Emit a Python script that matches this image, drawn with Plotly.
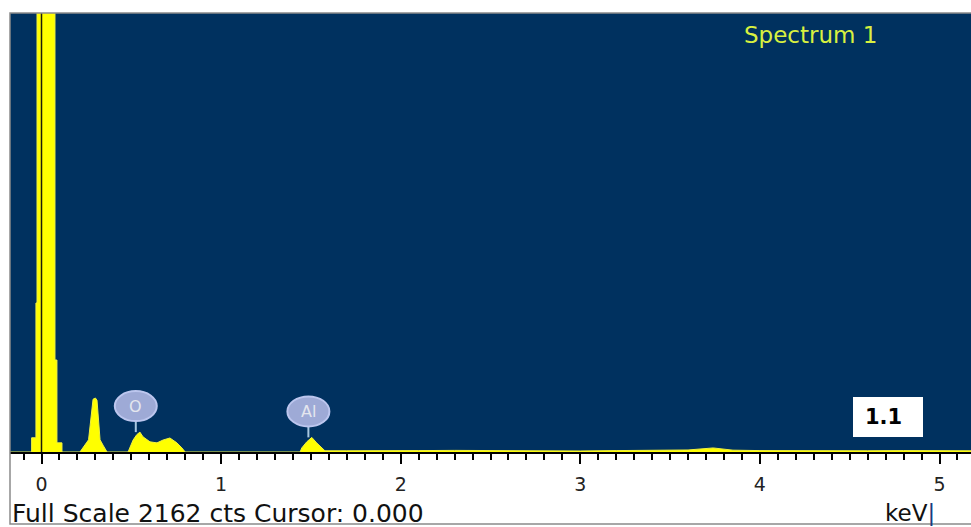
import plotly.graph_objects as go

# ---- data ----
energy_kev = [-0.18, -0.055, -0.055, -0.031, -0.031, -0.025, -0.025, 0.075, 0.075, 0.086, 0.086, 0.114, 0.114,
              0.214, 0.25, 0.262, 0.287, 0.300, 0.309, 0.326, 0.345, 0.365,
              0.482, 0.51, 0.53, 0.548, 0.565, 0.604, 0.643, 0.677, 0.715, 0.754, 0.782, 0.80,
              1.44, 1.449, 1.477, 1.505, 1.532, 1.56, 1.578,
              1.7, 1.9, 2.1, 2.3, 2.5, 2.7, 2.85, 3.0, 3.2, 3.4, 3.6, 3.74, 3.85, 4.0, 4.2, 4.4, 4.6, 4.8, 5.0, 5.2]
counts = [0, 0, 70, 70, 734, 734, 5200, 5200, 453, 453, 45, 45, 0,
          0, 45, 60, 260, 266, 255, 60, 30, 0,
          0, 59, 85, 98, 75, 50, 45, 59, 69, 45, 20, 0,
          0, 20, 50, 72, 45, 20, 6,
          6, 8, 7, 8, 7, 8, 4, 5, 7, 8, 10, 20, 9, 7, 6, 8, 6, 7, 6, 6]

full_scale_cts = 2162
cursor_kev = 0.0
tick_values = [0, 1, 2, 3, 4, 5]
tick_labels = ["0", "1", "2", "3", "4", "5"]
element_labels = ["O", "Al"]
element_energy = [0.525, 1.486]
spectrum_name = "Spectrum 1"
sample_tag = "1.1"

# ---- figure ----
NAVY = "#00315f"
W, H = 971, 527
L, R, T, B = 10, 0, 13, 75
pw, ph = W - L - R, H - T - B

def px(x):
    return (x - L) / pw

def py(y):
    return (H - B - y) / ph

fig = go.Figure()
fig.add_trace(go.Scatter(
    x=energy_kev, y=counts, mode="lines", fill="tozeroy",
    fillcolor="#ffff00", line=dict(color="#f0f040", width=1),
    hoverinfo="skip", showlegend=False,
))

shapes = []
annotations = []

# cursor line
shapes.append(dict(type="line", xref="x", yref="paper", x0=cursor_kev, x1=cursor_kev, y0=0, y1=1,
                   line=dict(color="#1c1c08", width=1.5), layer="above"))

# element labels
for name, e in zip(element_labels, element_energy):
    peak = max(c for x, c in zip(energy_kev, counts) if abs(x - e) <= 0.05)
    shapes.append(dict(type="line", xref="x", yref="y", xsizemode="pixel", ysizemode="pixel",
                       xanchor=e, yanchor=peak, x0=0, x1=0, y0=0, y1=12,
                       line=dict(color="#a8c8e0", width=2)))
    shapes.append(dict(type="circle", xref="x", yref="y", xsizemode="pixel", ysizemode="pixel",
                       xanchor=e, yanchor=peak, x0=-21, x1=21, y0=11, y1=41,
                       fillcolor="#9eaad6", line=dict(color="#bcc6ee", width=2)))
    annotations.append(dict(x=e, y=peak, xref="x", yref="y", yshift=26, text=name, showarrow=False,
                            xanchor="center", yanchor="middle",
                            font=dict(family="DejaVu Sans", size=16, color="#e4e6ee")))

# spectrum name
annotations.append(dict(x=px(810), y=py(35), xref="paper", yref="paper", text=spectrum_name,
                        xanchor="center", yanchor="middle",
                        showarrow=False, font=dict(family="DejaVu Sans", size=23, color="#d8f040")))

# sample tag box
shapes.append(dict(type="rect", xref="paper", yref="paper", x0=px(853), x1=px(923), y0=py(437), y1=py(397),
                   fillcolor="white", line=dict(color="white", width=0)))
annotations.append(dict(x=px(883), y=py(417), xref="paper", yref="paper", text="<b>%s</b>" % sample_tag,
                        xanchor="center", yanchor="middle",
                        showarrow=False, font=dict(family="DejaVu Sans", size=21, color="black")))

# bottom status text
annotations.append(dict(x=px(10), y=py(513), xref="paper", yref="paper", xanchor="left", yanchor="middle",
                        text="Full Scale %d cts Cursor: %.3f" % (full_scale_cts, cursor_kev),
                        showarrow=False, font=dict(family="DejaVu Sans", size=25, color="#111111")))
annotations.append(dict(x=px(937), y=py(513), xref="paper", yref="paper", xanchor="right", yanchor="middle",
                        text="keV<span style='color:#1a3a80'>|</span>",
                        showarrow=False, font=dict(family="DejaVu Sans", size=23, color="#111111")))

# outer border
shapes.append(dict(type="rect", xref="paper", yref="paper", x0=px(10), x1=px(975), y0=py(524), y1=1,
                   line=dict(color="#8a8a8a", width=1.5), fillcolor="rgba(0,0,0,0)"))

x_min = (L - 41.5) / 179.6
x_max = (W - R - 41.5) / 179.6

fig.update_layout(
    width=W, height=H,
    margin=dict(l=L, r=R, t=T, b=B, pad=0),
    paper_bgcolor="white", plot_bgcolor=NAVY,
    shapes=shapes, annotations=annotations,
    xaxis=dict(range=[x_min, x_max], tickvals=tick_values, ticktext=tick_labels,
               ticks="outside", ticklen=10, tickwidth=2, tickcolor="black",
               showline=True, linecolor="black", linewidth=2,
               showgrid=False, zeroline=False, ticklabelstandoff=4,
               tickfont=dict(family="DejaVu Sans", size=19, color="#222222"),
               minor=dict(dtick=0.1, ticks="outside", ticklen=6, tickwidth=2, tickcolor="black", showgrid=False)),
    yaxis=dict(range=[0, full_scale_cts], visible=False, fixedrange=True),
)

fig.write_html("out.html", config={"displayModeBar": False},
               post_script="document.body.style.margin='0px';document.body.style.overflow='hidden';")
